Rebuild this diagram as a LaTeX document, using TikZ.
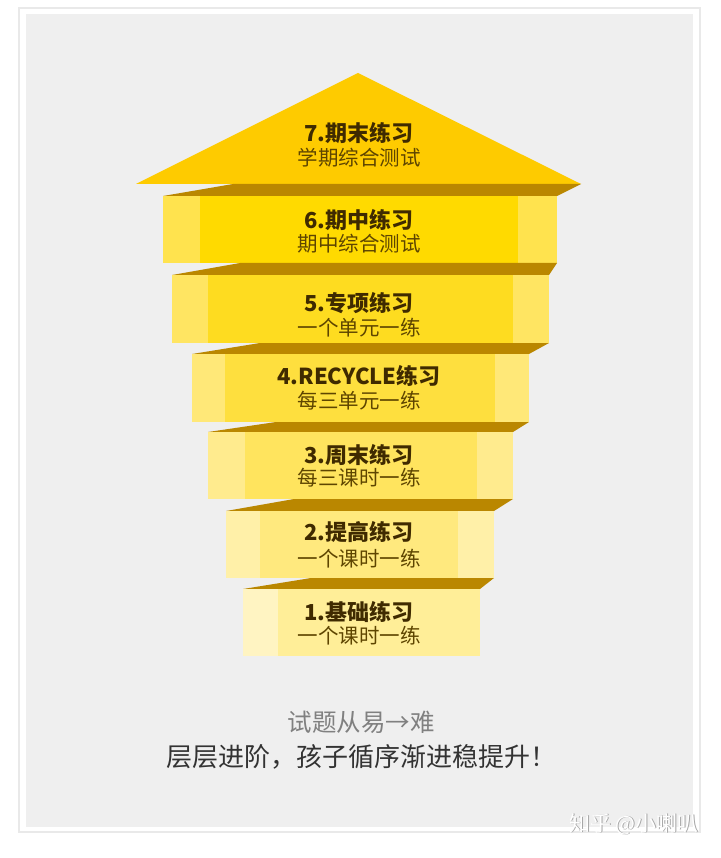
\documentclass[tikz,border=0pt]{standalone}
\usepackage{fontspec}
\setmainfont{Noto Sans CJK SC}
\begin{document}
\begin{tikzpicture}[x=1pt,y=-1pt,
  title/.style={inner sep=0pt,text=ttl,font=\fontsize{22}{25}\selectfont\bfseries},
  sub/.style={inner sep=0pt,text=sbt,font=\fontsize{20.5}{24}\selectfont},
  band/.style={fill=bandc}]
\definecolor{panel}{HTML}{EFEFEF}
\definecolor{frameline}{HTML}{E9E9E9}
\definecolor{roofc}{HTML}{FECB00}
\definecolor{bandc}{HTML}{BA8700}
\definecolor{ttl}{HTML}{3F2A00}
\definecolor{sbt}{HTML}{5E4500}
\definecolor{mainA}{HTML}{FFDA00}\definecolor{stripA}{HTML}{FFE34E}
\definecolor{mainB}{HTML}{FEDC20}\definecolor{stripB}{HTML}{FFE562}
\definecolor{mainC}{HTML}{FEDF3E}\definecolor{stripC}{HTML}{FFE878}
\definecolor{mainD}{HTML}{FFE45E}\definecolor{stripD}{HTML}{FFEB8E}
\definecolor{mainE}{HTML}{FFE97E}\definecolor{stripE}{HTML}{FFF0A8}
\definecolor{mainF}{HTML}{FFEE98}\definecolor{stripF}{HTML}{FFF4C2}
\useasboundingbox (0,0) rectangle (720,858);
\fill[white] (0,0) rectangle (720,858);
\draw[frameline,fill=white,line width=1.5pt] (19,8) rectangle (700,832);
\fill[panel] (26,14) rectangle (693,827);
% roof
\fill[roofc] (358,73) -- (581,184) -- (136,184) -- cycle;
\fill[band] (233,184) -- (581,184) -- (557,196) -- (163,196) -- cycle;
% layer 6
\fill[mainA] (163,196) rectangle (557,263);
\fill[stripA] (163,196) rectangle (200,263);
\fill[stripA] (518,196) rectangle (557,263);
\fill[band] (240,263) -- (557,263) -- (549,275) -- (172,275) -- cycle;
% layer 5
\fill[mainB] (172,275) rectangle (549,343);
\fill[stripB] (172,275) rectangle (208,343);
\fill[stripB] (513,275) rectangle (549,343);
\fill[band] (260,343) -- (549,343) -- (529,354) -- (192,354) -- cycle;
% layer 4
\fill[mainC] (192,354) rectangle (529,422);
\fill[stripC] (192,354) rectangle (225,422);
\fill[stripC] (495,354) rectangle (529,422);
\fill[band] (276,422) -- (529,422) -- (513,432) -- (208,432) -- cycle;
% layer 3
\fill[mainD] (208,432) rectangle (513,499);
\fill[stripD] (208,432) rectangle (245,499);
\fill[stripD] (477,432) rectangle (513,499);
\fill[band] (294,499) -- (513,499) -- (494,511) -- (226,511) -- cycle;
% layer 2
\fill[mainE] (226,511) rectangle (494,578);
\fill[stripE] (226,511) rectangle (260,578);
\fill[stripE] (458,511) rectangle (494,578);
\fill[band] (311,578) -- (494,578) -- (480,589) -- (243,589) -- cycle;
% layer 1
\fill[mainF] (243,589) rectangle (480,656);
\fill[stripF] (243,589) rectangle (278,656);
% texts
\node[title] (t7) at (359,133) {7.期末练习};
\node[sub] (s7) at (359,158) {学期综合测试};
\node[title] (t6) at (359,220) {6.期中练习};
\node[sub] (s6) at (359,244) {期中综合测试};
\node[title] (t5) at (359,303) {5.专项练习};
\node[sub] (s5) at (359,328) {一个单元一练};
\node[title] (t4) at (359,376) {4.RECYCLE练习};
\node[sub] (s4) at (359,401) {每三单元一练};
\node[title] (t3) at (359,455) {3.周末练习};
\node[sub] (s3) at (359,478) {每三课时一练};
\node[title] (t2) at (359,532) {2.提高练习};
\node[sub] (s2) at (359,559) {一个课时一练};
\node[title] (t1) at (359,612) {1.基础练习};
\node[sub] (s1) at (359,636) {一个课时一练};
\node[inner sep=0pt,text=black!50,font=\fontsize{24.5}{28}\selectfont] (cap1) at (361,722) {试题从易→难};
\node[inner sep=0pt,text=black!80,font=\fontsize{26}{31}\selectfont] (cap2) at (361,757) {层层进阶，孩子循序渐进稳提升！};
\node[inner sep=0pt,text=black!35,font=\fontsize{21}{25}\selectfont] (wms) at (634.8,824.8) {知乎 @小喇叭};
\node[inner sep=0pt,text=white,font=\fontsize{21}{25}\selectfont] (wm) at (634,824) {知乎 @小喇叭};
\end{tikzpicture}
\end{document}
